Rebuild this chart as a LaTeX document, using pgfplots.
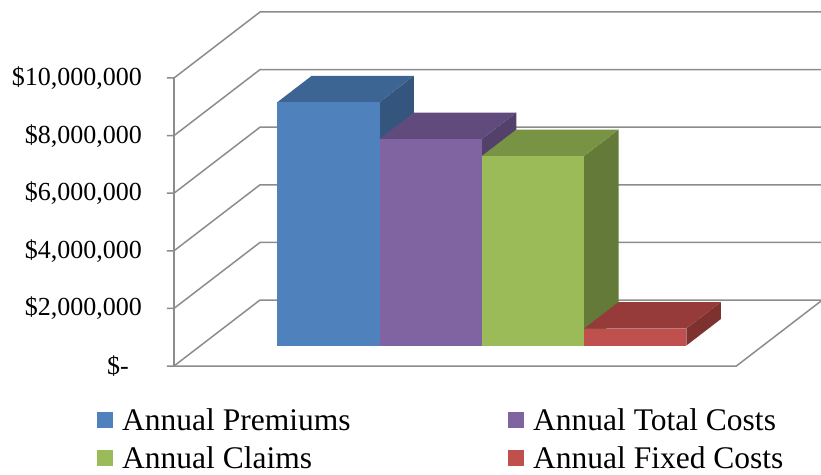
\documentclass[border=0pt]{standalone}
\usepackage{fontspec}
\setmainfont{Liberation Serif}
\usepackage{pgfplots}
\pgfplotsset{compat=1.18}

% face colours: front / top / side of each block
\definecolor{premF}{HTML}{4F81BD}\definecolor{premT}{HTML}{3D6594}\definecolor{premS}{HTML}{33557E}
\definecolor{totF}{HTML}{8064A2}\definecolor{totT}{HTML}{614B7C}\definecolor{totS}{HTML}{53406B}
\definecolor{clmF}{HTML}{9BBB59}\definecolor{clmT}{HTML}{789344}\definecolor{clmS}{HTML}{637A39}
\definecolor{fixF}{HTML}{C0504D}\definecolor{fixT}{HTML}{963B39}\definecolor{fixS}{HTML}{7E3230}
\definecolor{wall}{HTML}{8C8C8C}

% one 3-D block: left x, right x, height (millions), front, top, side colour
\newcommand\block[6]{%
  \addplot3[fill=#6, draw=none, forget plot] coordinates {(#2,0.31,0) (#2,0.71,0) (#2,0.71,#3) (#2,0.31,#3)};
  \addplot3[fill=#5, draw=none, forget plot] coordinates {(#1,0.31,#3) (#2,0.31,#3) (#2,0.71,#3) (#1,0.71,#3)};
  \addplot3[fill=#4, draw=none] coordinates {(#1,0.31,0) (#2,0.31,0) (#2,0.31,#3) (#1,0.31,#3)};
}

\begin{document}
\begin{tikzpicture}
\begin{axis}[
  hide axis, clip=false, no markers,
  x={(102.25bp,0bp)}, y={(86bp,66bp)}, z={(0bp,28.8bp)},
  xmin=-1.25, xmax=4.25, ymin=0, ymax=1, zmin=0, zmax=10,
  legend columns=2,
  legend image code/.code={\fill[#1] (0bp,-8bp) rectangle (16bp,8bp); \path (25bp,0bp);},
  legend style={
    draw=none, fill=none, inner sep=0pt, column sep=0pt, row sep=15bp,
    font=\fontsize{31.5bp}{37bp}\selectfont,
    nodes={inner sep=0pt},
    cells={anchor=west},
    at={(axis cs:-2.003,0,-1.458)}, anchor=north west},
  wallline/.style={draw=wall, line width=1.5bp, forget plot},
]
% walls, floor and gridlines
\addplot3[wallline] coordinates {(-1.25,0,0) (-1.25,0,10)};
\addplot3[wallline] coordinates {(-1.3185,0,0) (4.25,0,0) (4.25,1,0)};
\addplot3[wallline] coordinates {(-1.25,0,0) (-1.25,1,0) (4.35,1,0)};
\addplot3[wallline] coordinates {(-1.3185,0,2) (-1.25,0,2) (-1.25,1,2) (4.35,1,2)};
\addplot3[wallline] coordinates {(-1.3185,0,4) (-1.25,0,4) (-1.25,1,4) (4.35,1,4)};
\addplot3[wallline] coordinates {(-1.3185,0,6) (-1.25,0,6) (-1.25,1,6) (4.35,1,6)};
\addplot3[wallline] coordinates {(-1.3185,0,8) (-1.25,0,8) (-1.25,1,8) (4.35,1,8)};
\addplot3[wallline] coordinates {(-1.3185,0,10) (-1.25,0,10) (-1.25,1,10) (4.35,1,10)};

% value labels on the front edge
\begin{scope}[font=\fontsize{26bp}{31bp}\selectfont]
\node[anchor=east, inner sep=0pt, xshift=-32bp] at (axis cs:-1.25,0,10) {\$10,000,000};
\node[anchor=east, inner sep=0pt, xshift=-32bp] at (axis cs:-1.25,0,8) {\$8,000,000};
\node[anchor=east, inner sep=0pt, xshift=-32bp] at (axis cs:-1.25,0,6) {\$6,000,000};
\node[anchor=east, inner sep=0pt, xshift=-32bp] at (axis cs:-1.25,0,4) {\$4,000,000};
\node[anchor=east, inner sep=0pt, xshift=-32bp] at (axis cs:-1.25,0,2) {\$2,000,000};
\node[anchor=east, inner sep=0pt, xshift=-32bp] at (axis cs:-1.25,0,0) {\$-\hphantom{0}};
\end{scope}

% blocks (values in millions of dollars)
\block{-0.5}{0.5}{8.45}{premF}{premT}{premS}
\addlegendentry{\makebox[386bp][l]{Annual Premiums}}
\block{0.5}{1.5}{7.17}{totF}{totT}{totS}
\addlegendentry{Annual Total Costs}
\block{1.5}{2.5}{6.58}{clmF}{clmT}{clmS}
\addlegendentry{\makebox[386bp][l]{Annual Claims}}
\block{2.5}{3.5}{0.59}{fixF}{fixT}{fixS}
\addlegendentry{Annual Fixed Costs}

\coordinate (O) at (axis cs:-1.25,0,0);
\end{axis}
\pgfresetboundingbox
\path[use as bounding box] ([shift={(-174bp,-109bp)}]O) rectangle ([shift={(647bp,366bp)}]O);
\end{tikzpicture}
\end{document}
